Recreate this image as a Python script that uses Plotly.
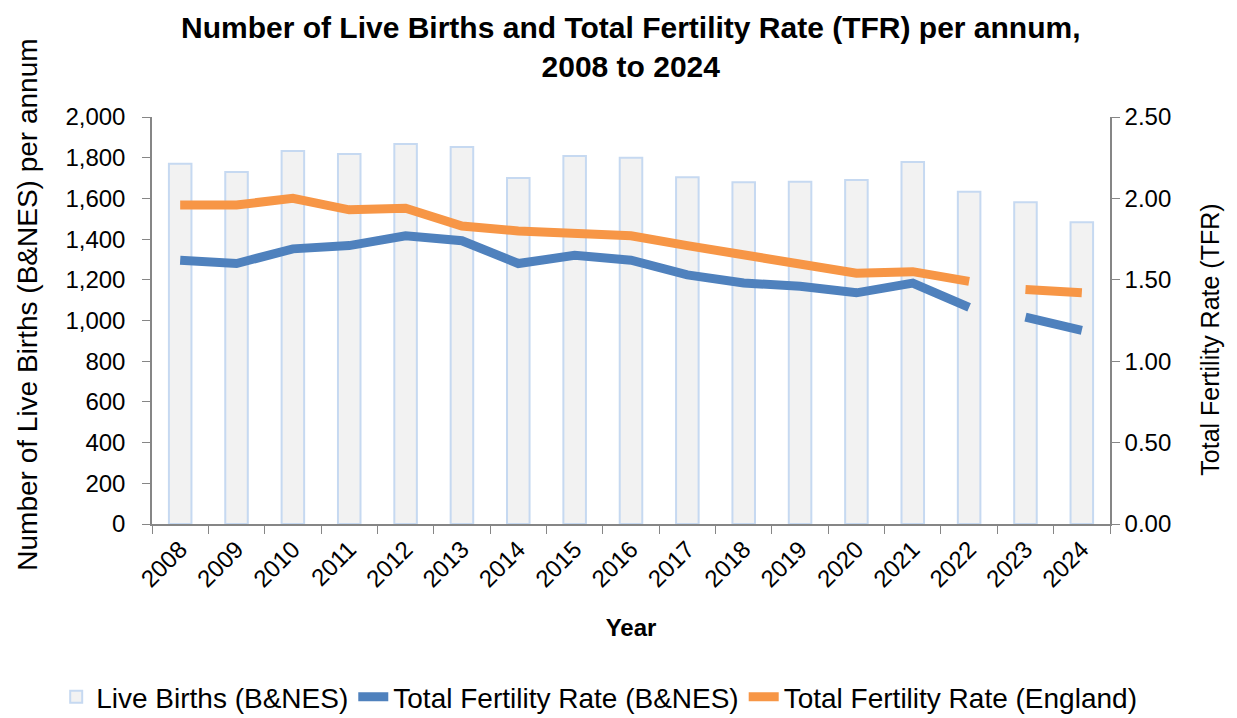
import plotly.graph_objects as go

years = ['2008', '2009', '2010', '2011', '2012', '2013', '2014', '2015', '2016',
         '2017', '2018', '2019', '2020', '2021', '2022', '2023', '2024']
live_births = [1770, 1730, 1833, 1818, 1867, 1853, 1700, 1808, 1800,
               1704, 1679, 1682, 1690, 1779, 1633, 1581, 1483]
tfr_bnes = [1.62, 1.60, 1.69, 1.71, 1.77, 1.74, 1.60, 1.65, 1.62,
            1.53, 1.48, 1.46, 1.42, 1.48, 1.33, 1.27, 1.19]
tfr_england = [1.96, 1.96, 2.00, 1.93, 1.94, 1.83, 1.80, 1.78, 1.77,
               1.71, 1.65, 1.59, 1.54, 1.55, 1.49, 1.44, 1.42]

# the lines break between 2022 and 2023
split = years.index('2023')

FONT = 'Liberation Sans, Arial, sans-serif'
BLUE = '#4F81BD'
ORANGE = '#F79646'
GREY = '#868686'

fig = go.Figure()

fig.add_trace(go.Bar(x=years, y=live_births, name='Live Births (B&NES)',
                     marker=dict(color='#F2F2F2', line=dict(color='#C6D9F1', width=2)),
                     width=0.4))

for vals, name, col in [(tfr_bnes, 'Total Fertility Rate (B&NES)', BLUE),
                        (tfr_england, 'Total Fertility Rate (England)', ORANGE)]:
    fig.add_trace(go.Scatter(x=years[:split], y=vals[:split], name=name, mode='lines',
                             line=dict(color=col, width=9), yaxis='y2',
                             legendgroup=name))
    fig.add_trace(go.Scatter(x=years[split:], y=vals[split:], name=name, mode='lines',
                             line=dict(color=col, width=9), yaxis='y2',
                             legendgroup=name, showlegend=False))

# title + y titles as annotations so they can be placed exactly
fig.add_annotation(text='<b>Number of Live Births and Total Fertility Rate (TFR) per annum,<br>2008 to 2024</b>',
                   xref='paper', yref='paper', x=0.5, y=1.171, xanchor='center', yanchor='middle',
                   showarrow=False, font=dict(size=30))
fig.add_annotation(text='Number of Live Births (B&NES) per annum', textangle=-90,
                   xref='paper', yref='paper', x=-0.13, y=0.54, xanchor='center', yanchor='middle',
                   showarrow=False, font=dict(size=28))
fig.add_annotation(text='Total Fertility Rate (TFR)', textangle=-90,
                   xref='paper', yref='paper', x=1.104, y=0.452, xanchor='center', yanchor='middle',
                   showarrow=False, font=dict(size=25))

# page sits 8px in from the window edge, so the figure is 8px smaller
fig.update_layout(
    width=1229, height=710,
    paper_bgcolor='white', plot_bgcolor='white',
    font=dict(family=FONT, size=24, color='black'),
    margin=dict(l=144, r=127, t=109, b=194, autoexpand=False),
    showlegend=True,
    legend=dict(orientation='h', x=-0.1, xanchor='left', y=-0.425, yanchor='middle',
                font=dict(size=28), itemwidth=30, tracegroupgap=0),
    xaxis=dict(type='category', tickangle=-45, ticks='outside', tickson='boundaries',
               ticklen=8, tickcolor=GREY, showline=True, linecolor=GREY,
               linewidth=1.5, showgrid=False, automargin=False,
               title=dict(text='<b>Year</b>', font=dict(size=24), standoff=28)),
    yaxis=dict(range=[0, 2000], dtick=200, tickformat=',', ticks='outside', ticklen=8,
               tickcolor=GREY, showline=True, linecolor=GREY, linewidth=1.5,
               showgrid=False, zeroline=False, automargin=False, ticklabelstandoff=12),
    yaxis2=dict(range=[0, 2.5], dtick=0.5, tickformat='.2f', overlaying='y', side='right',
                ticks='outside', ticklen=8, tickcolor=GREY, showline=True,
                linecolor=GREY, linewidth=1.5, showgrid=False, zeroline=False,
                automargin=False, ticklabelstandoff=0),
)

fig.write_html('out.html')
